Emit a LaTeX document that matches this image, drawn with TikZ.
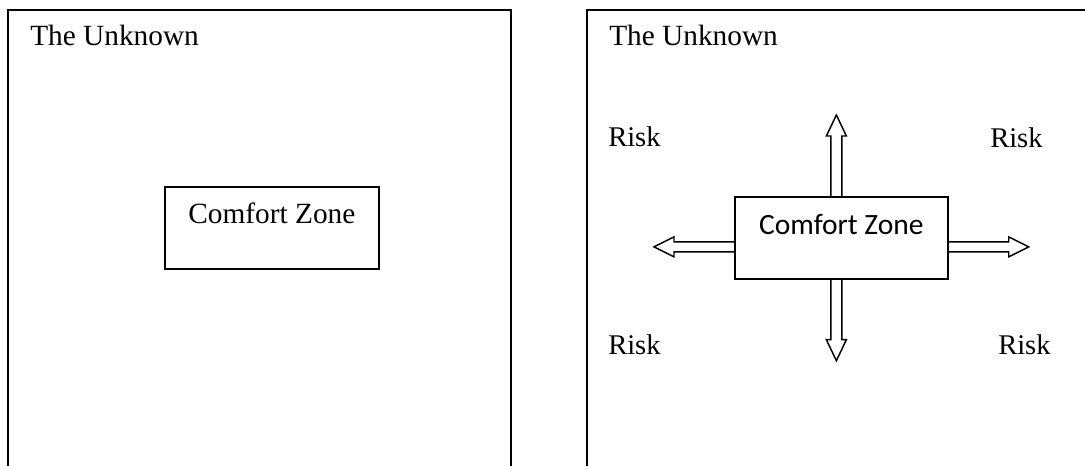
\documentclass[tikz,border=0pt]{standalone}
\usepackage{fontspec}
\setmainfont{Liberation Serif}
\newfontfamily\czfont{Carlito}
\usepackage{tikz}
\usetikzlibrary{math}
\tikzstyle{frame} = [line width=1.5pt]
\tikzstyle{lbl} = [anchor=base west, inner sep=0pt, font=\fontsize{22}{26}\selectfont]
\tikzstyle{risk} = [lbl, font=\fontsize{21.4}{26}\selectfont]
\tikzstyle{zone} = [draw, line width=1.3pt, anchor=north west, inner xsep=0pt, inner ysep=0pt]
\tikzstyle{blockarrow} = [line width=1.1pt, line join=miter]

\begin{document}
\begin{tikzpicture}[x=0.75pt, y=-0.75pt]

  \useasboundingbox (0,0) rectangle (1085,466);

  \tikzmath{\ymax = 466; \ytop = 10; \sh = 60; \hd = 21;}

  % Left panel
  \begin{scope}
    \draw[frame] (8,\ymax) -- (8,\ytop) -- (511,\ytop) -- (511,\ymax);
    \node[lbl] (unk1) at (30,46) {The Unknown};
    \node[zone, font=\fontsize{22}{26}\selectfont, minimum width=160.5pt,
      text height=27.75pt, text depth=33.75pt] (cz1) at (164,186) {Comfort Zone};
  \end{scope}

  % Right panel
  \begin{scope}
    \draw[frame] (587,\ymax) -- (587,\ytop) -- (1085,\ytop);
    \node[lbl] (unk2) at (609,46) {The Unknown};

    \node[risk] (risk1) at (608,147) {Risk};
    \node[risk] (risk2) at (990,148) {Risk};
    \node[risk] (risk3) at (608,355) {Risk};
    \node[risk] (risk4) at (998,355) {Risk};

    \node[zone, font=\czfont\fontsize{22.1}{26}\selectfont, minimum width=159.75pt,
      text height=28.5pt, text depth=33pt] (cz2) at (734,196) {Comfort Zone};

    % up
    \draw[blockarrow] (cz2.north) ++(-10.5,0) -- ++(0,-\sh) -- ++(-4.5,0) -- ++(10,-\hd)
      -- ++(10,\hd) -- ++(-4.5,0) -- ++(0,\sh);
    % down
    \draw[blockarrow] (cz2.south) ++(-10.5,0) -- ++(0,\sh) -- ++(-4.5,0) -- ++(10,\hd)
      -- ++(10,-\hd) -- ++(-4.5,0) -- ++(0,-\sh);
    % left
    \draw[blockarrow] (cz2.west) ++(0,4) -- ++(-\sh,0) -- ++(0,-5) -- ++(-20,10)
      -- ++(20,10) -- ++(0,-5) -- ++(\sh,0);
    % right
    \draw[blockarrow] (cz2.east) ++(0,4) -- ++(\sh,0) -- ++(0,-5) -- ++(20,10)
      -- ++(-20,10) -- ++(0,-5) -- ++(-\sh,0);
  \end{scope}

\end{tikzpicture}
\end{document}
